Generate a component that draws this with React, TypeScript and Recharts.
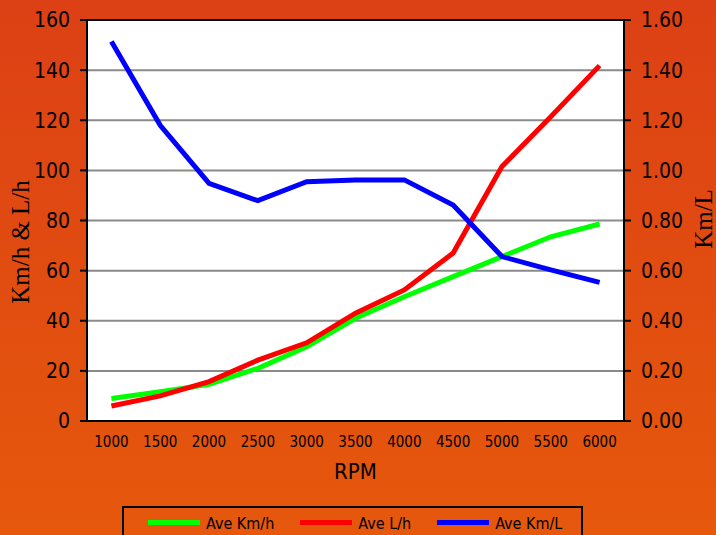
import React from 'react';
import { LineChart, Line, XAxis, YAxis, CartesianGrid, ReferenceLine } from 'recharts';

const rpmLabels = ['1000', '1500', '2000', '2500', '3000', '3500', '4000', '4500', '5000', '5500', '6000'];
const kmhValues = [9.0, 11.7, 14.6, 21.0, 29.6, 41.0, 49.6, 57.6, 65.6, 73.5, 78.6];
const lhValues = [6.0, 10.0, 15.7, 24.3, 31.2, 43.0, 52.3, 67.0, 101.5, 121.4, 141.8];
const kmlValues = [1.514, 1.18, 0.948, 0.879, 0.955, 0.962, 0.962, 0.862, 0.656, 0.603, 0.553];
const leftTicks = [0, 20, 40, 60, 80, 100, 120, 140, 160];
const rightTicks = [0, 0.2, 0.4, 0.6, 0.8, 1.0, 1.2, 1.4, 1.6];

const seriesNames = ['Ave Km/h', 'Ave L/h', 'Ave Km/L'];
const seriesColors = ['#00ff00', '#ff0000', '#0000ff'];

const data = rpmLabels.map((rpm, i) => ({
  pos: i + 0.5,
  rpm,
  kmh: kmhValues[i],
  lh: lhValues[i],
  kml: kmlValues[i],
}));

const bandTicks = Array.from({ length: rpmLabels.length + 1 }, (_, i) => i);
const labelTicks = rpmLabels.map((_, i) => i + 0.5);

const sans = "'DejaVu Sans Condensed', 'DejaVu Sans', Tahoma, sans-serif";
const serif = "'Liberation Serif', 'DejaVu Serif', serif";

export default function App() {
  return (
    <div
      style={{
        position: 'absolute',
        left: 0,
        top: 0,
        width: 716,
        height: 535,
        overflow: 'hidden',
        background: 'linear-gradient(to bottom, #dc4015, #e6580c)',
      }}
    >
      <LineChart
        width={716}
        height={535}
        data={data}
        margin={{ top: 20, right: 32, bottom: 56, left: 27 }}
      >
        <CartesianGrid
          xAxisId="a"
          yAxisId="left"
          vertical={false}
          stroke="#8a8a8a"
          strokeWidth={2}
          fill="#ffffff"
          fillOpacity={1}
        />
        <XAxis
          xAxisId="a"
          dataKey="pos"
          type="number"
          domain={[0, rpmLabels.length]}
          ticks={bandTicks}
          tick={false}
          tickSize={7}
          height={1}
          axisLine={{ stroke: '#000', strokeWidth: 2 }}
          tickLine={{ stroke: '#000', strokeWidth: 2 }}
        />
        <XAxis
          xAxisId="b"
          dataKey="pos"
          type="number"
          domain={[0, rpmLabels.length]}
          ticks={labelTicks}
          tickFormatter={(v: number) => rpmLabels[Math.round(v - 0.5)]}
          axisLine={false}
          tickLine={false}
          tickSize={0}
          tickMargin={14}
          height={57}
          interval={0}
          tick={{ fill: '#000', fontSize: 15, fontFamily: sans }}
          label={{
            value: 'RPM',
            position: 'insideBottom',
            offset: 0,
            fill: '#000',
            fontSize: 22,
            fontFamily: sans,
          }}
        />
        <YAxis
          yAxisId="left"
          domain={[0, 160]}
          ticks={leftTicks}
          width={60}
          tickSize={7}
          tickMargin={10}
          interval={0}
          axisLine={{ stroke: '#000', strokeWidth: 2 }}
          tickLine={{ stroke: '#000', strokeWidth: 2 }}
          tick={{ fill: '#000', fontSize: 21, fontFamily: sans }}
        />
        <YAxis
          yAxisId="right"
          orientation="right"
          domain={[0, 1.6]}
          ticks={rightTicks}
          width={60}
          tickSize={7}
          tickMargin={10}
          interval={0}
          tickFormatter={(v: number) => v.toFixed(2)}
          axisLine={{ stroke: '#000', strokeWidth: 2 }}
          tickLine={{ stroke: '#000', strokeWidth: 2 }}
          tick={{ fill: '#000', fontSize: 21, fontFamily: sans }}
        />
        <ReferenceLine xAxisId="a" yAxisId="left" y={160} stroke="#000" strokeWidth={2} />
        <Line
          xAxisId="a"
          yAxisId="left"
          dataKey="kmh"
          stroke={seriesColors[0]}
          strokeWidth={5}
          dot={false}
          type="linear"
          isAnimationActive={false}
        />
        <Line
          xAxisId="a"
          yAxisId="left"
          dataKey="lh"
          stroke={seriesColors[1]}
          strokeWidth={5}
          dot={false}
          type="linear"
          isAnimationActive={false}
        />
        <Line
          xAxisId="a"
          yAxisId="right"
          dataKey="kml"
          stroke={seriesColors[2]}
          strokeWidth={5}
          dot={false}
          type="linear"
          isAnimationActive={false}
        />
      </LineChart>

      <div
        style={{
          position: 'absolute',
          left: 20,
          top: 242,
          transform: 'translate(-50%, -50%) rotate(-90deg)',
          fontFamily: serif,
          fontSize: 25,
          lineHeight: '25px',
          whiteSpace: 'nowrap',
          color: '#000',
        }}
      >
        Km/h &amp; L/h
      </div>
      <div
        style={{
          position: 'absolute',
          left: 703,
          top: 219,
          transform: 'translate(-50%, -50%) rotate(-90deg)',
          fontFamily: serif,
          fontSize: 25,
          lineHeight: '25px',
          whiteSpace: 'nowrap',
          color: '#000',
        }}
      >
        Km/L
      </div>

      <div
        style={{
          position: 'absolute',
          left: 122,
          top: 506,
          width: 461,
          height: 40,
          border: '2px solid #000',
          boxSizing: 'border-box',
          display: 'flex',
          alignItems: 'flex-start',
          paddingLeft: 24,
          paddingTop: 5,
          gap: 26,
        }}
      >
        {seriesNames.map((name, i) => (
          <div key={name} style={{ display: 'flex', alignItems: 'center', height: 20 }}>
            <span
              style={{
                display: 'inline-block',
                width: 52,
                height: 5,
                background: seriesColors[i],
                marginRight: 6,
                marginTop: -2,
              }}
            />
            <span style={{ fontFamily: sans, fontSize: 16, color: '#000', whiteSpace: 'nowrap' }}>
              {name}
            </span>
          </div>
        ))}
      </div>
    </div>
  );
}
